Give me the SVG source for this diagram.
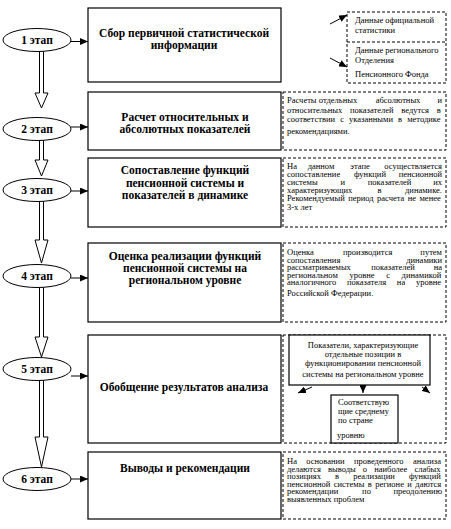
<svg xmlns="http://www.w3.org/2000/svg" width="451" height="529" viewBox="0 0 451 529">
<style>
.box{fill:#fff;stroke:#000;stroke-width:1.2}
.dash{fill:#fff;stroke:#000;stroke-width:1;stroke-dasharray:3,2}
.ell{fill:#fff;stroke:#000;stroke-width:1}
.ttl{font-family:"Liberation Serif","Times New Roman",serif;font-weight:bold;font-size:11.5px;text-anchor:middle;fill:#000}
.stg{font-family:"Liberation Serif","Times New Roman",serif;font-weight:bold;font-size:11.5px;text-anchor:middle;fill:#000}
.txt{font-family:"Liberation Serif","Times New Roman",serif;font-size:8.5px;fill:#000}
.ctr{text-anchor:middle}
.end{text-anchor:end}
.con{fill:none;stroke:#000;stroke-width:1}
.blk{fill:#fff;stroke:#000;stroke-width:1}
</style>
<defs>
<marker id="ah" markerUnits="userSpaceOnUse" markerWidth="8" markerHeight="7" refX="8" refY="3.5" orient="auto">
<path d="M0,0 L8,3.5 L0,7 z" fill="#000"/>
</marker>
</defs>

<g id="connectors">
<polygon class="blk" points="39.5,51 39.5,93 35,93 41.5,108 48,93 43.5,93 43.5,51"/>
<polygon class="blk" points="39.5,140 39.5,160 35,160 41.5,176 48,160 43.5,160 43.5,140"/>
<polygon class="blk" points="39.5,201 39.5,240 35,240 41.5,263 48,240 43.5,240 43.5,201"/>
<polygon class="blk" points="39.5,287 39.5,337 35,337 41.5,357 48,337 43.5,337 43.5,287"/>
<polygon class="blk" points="39.5,380 39.5,437 35,437 41.5,467 48,437 43.5,437 43.5,380"/>
<line class="con" x1="71" y1="41.5" x2="88" y2="41.5" marker-end="url(#ah)"/>
<line class="con" x1="71" y1="127" x2="88" y2="127" marker-end="url(#ah)"/>
<line class="con" x1="71" y1="191" x2="88" y2="191" marker-end="url(#ah)"/>
<line class="con" x1="71" y1="278" x2="88" y2="278" marker-end="url(#ah)"/>
<line class="con" x1="71" y1="376" x2="88" y2="376" marker-end="url(#ah)"/>
<line class="con" x1="71" y1="479" x2="88" y2="479" marker-end="url(#ah)"/>
<line class="con" x1="330" y1="24" x2="347" y2="15" marker-end="url(#ah)"/>
<line class="con" x1="330" y1="58" x2="347" y2="67" marker-end="url(#ah)"/>
</g>

<g id="stage1">
<ellipse class="ell" cx="37" cy="40" rx="34" ry="11.5"/>
<text class="stg" x="37" y="44">1 этап</text>
</g>
<g id="stage2">
<ellipse class="ell" cx="37" cy="129" rx="34" ry="11.5"/>
<text class="stg" x="37" y="133">2 этап</text>
</g>
<g id="stage3">
<ellipse class="ell" cx="37" cy="190" rx="34" ry="11.5"/>
<text class="stg" x="37" y="194">3 этап</text>
</g>
<g id="stage4">
<ellipse class="ell" cx="37" cy="276" rx="34" ry="11.5"/>
<text class="stg" x="37" y="280">4 этап</text>
</g>
<g id="stage5">
<ellipse class="ell" cx="37" cy="369" rx="34" ry="11.5"/>
<text class="stg" x="37" y="373">5 этап</text>
</g>
<g id="stage6">
<ellipse class="ell" cx="37" cy="479" rx="34" ry="11.5"/>
<text class="stg" x="37" y="483">6 этап</text>
</g>

<g id="box1">
<rect class="box" x="88" y="8" width="193" height="74"/>
<text class="ttl" x="184" y="37">Сбор первичной статистической</text>
<text class="ttl" x="184" y="49">информации</text>
</g>
<g id="sources">
<rect class="dash" x="347" y="12" width="99" height="71"/>
<line class="con" x1="347" y1="42" x2="446" y2="42" stroke-dasharray="3,2"/>
<text class="txt" x="355" y="23">Данные официальной</text>
<text class="txt" x="355" y="33">статистики</text>
<text class="txt" x="355" y="53">Данные регионального</text>
<text class="txt" x="355" y="63">Отделения</text>
<text class="txt" x="355" y="77">Пенсионного  Фонда</text>
</g>

<g id="box2">
<rect class="box" x="88" y="92" width="193" height="58"/>
<text class="ttl" x="185" y="121">Расчет относительных и</text>
<text class="ttl" x="185" y="133">абсолютных показателей</text>
</g>
<g id="note2">
<rect class="dash" x="283" y="92" width="163" height="58"/>
<text class="txt" x="287" y="103">Расчеты</text>
<text class="txt ctr" x="338" y="103">отдельных</text>
<text class="txt ctr" x="398" y="103">абсолютных</text>
<text class="txt end" x="442" y="103">и</text>
<text class="txt" x="287" y="113" word-spacing="5.6">относительных показателей ведутся в</text>
<text class="txt" x="287" y="122" word-spacing="3.0">соответствии с указанными в методике</text>
<text class="txt" x="287" y="134">рекомендациями.</text>
</g>

<g id="box3">
<rect class="box" x="88" y="158" width="193" height="69"/>
<text class="ttl" x="185" y="174">Сопоставление функций</text>
<text class="ttl" x="185" y="187">пенсионной системы и</text>
<text class="ttl" x="185" y="199">показателей в динамике</text>
</g>
<g id="note3">
<rect class="dash" x="283" y="158" width="163" height="69"/>
<text class="txt" x="287" y="169">На</text>
<text class="txt ctr" x="321" y="169">данном</text>
<text class="txt ctr" x="360" y="169">этапе</text>
<text class="txt end" x="442" y="169">осуществляется</text>
<text class="txt" x="287" y="177">сопоставление</text>
<text class="txt ctr" x="370" y="177">функций</text>
<text class="txt end" x="442" y="177">пенсионной</text>
<text class="txt" x="287" y="185">системы</text>
<text class="txt ctr" x="342.7" y="185">и</text>
<text class="txt ctr" x="389.6" y="185">показателей</text>
<text class="txt end" x="442" y="185">их</text>
<text class="txt" x="287" y="193">характеризующих</text>
<text class="txt ctr" x="379.5" y="193">в</text>
<text class="txt end" x="442" y="193">динамике.</text>
<text class="txt" x="287" y="201" word-spacing="1.3">Рекомендуемый период расчета не менее</text>
<text class="txt" x="287" y="210">3-х лет</text>
</g>

<g id="box4">
<rect class="box" x="88" y="243" width="193" height="79"/>
<text class="ttl" x="185" y="260">Оценка реализации функций</text>
<text class="ttl" x="185" y="272">пенсионной системы на</text>
<text class="ttl" x="185" y="284">региональном уровне</text>
</g>
<g id="note4">
<rect class="dash" x="283" y="243" width="163" height="79"/>
<text class="txt" x="287" y="255">Оценка</text>
<text class="txt ctr" x="367.7" y="255">производится</text>
<text class="txt end" x="442" y="255">путем</text>
<text class="txt" x="287" y="262.5">сопоставления</text>
<text class="txt end" x="442" y="262.5">динамики</text>
<text class="txt" x="287" y="270">рассматриваемых</text>
<text class="txt ctr" x="393" y="270">показателей</text>
<text class="txt end" x="442" y="270">на</text>
<text class="txt" x="287" y="277.5" word-spacing="9.5">региональном уровне с динамикой</text>
<text class="txt" x="287" y="285" word-spacing="8.6">аналогичного показателя на уровне</text>
<text class="txt" x="287" y="296">Российской Федерации.</text>
</g>

<g id="box5">
<rect class="box" x="88" y="335" width="193" height="108"/>
<text class="ttl" x="184" y="391">Обобщение результатов анализа</text>
</g>
<g id="note5">
<rect class="dash" x="283" y="335" width="163" height="108"/>
<rect class="box" x="289" y="335" width="141" height="50" stroke-width="1"/>
<text class="txt ctr" x="363" y="348">Показатели, характеризующие</text>
<text class="txt ctr" x="363" y="357">отдельные позиции в</text>
<text class="txt ctr" x="363" y="366">функционировании пенсионной</text>
<text class="txt ctr" x="363" y="377">системы на региональном уровне</text>
<line class="con" x1="312" y1="387" x2="298" y2="393" marker-end="url(#ah)"/>
<line class="con" x1="363" y1="385" x2="363" y2="393" marker-end="url(#ah)"/>
<line class="con" x1="422" y1="387" x2="430" y2="393" marker-end="url(#ah)"/>
<rect class="box" x="331" y="395" width="67" height="48" stroke-width="1"/>
<text class="txt" x="338" y="405">Соответствую</text>
<text class="txt" x="338" y="414">щие среднему</text>
<text class="txt" x="338" y="423">по стране</text>
<text class="txt" x="337" y="438">уровню</text>
</g>

<g id="box6">
<rect class="box" x="88" y="452" width="193" height="67"/>
<text class="ttl" x="185" y="472">Выводы и рекомендации</text>
</g>
<g id="note6">
<rect class="dash" x="283" y="452" width="163" height="67"/>
<text class="txt" x="287" y="464" word-spacing="7.2">На основании проведенного анализа</text>
<text class="txt" x="287" y="471.5" word-spacing="5.0">делаются выводы о наиболее слабых</text>
<text class="txt" x="287" y="479" word-spacing="12.0">позициях в реализации функций</text>
<text class="txt" x="287" y="486.5" word-spacing="1.3">пенсионной системы в регионе и даются</text>
<text class="txt" x="287" y="494">рекомендации</text>
<text class="txt ctr" x="366.5" y="494">по</text>
<text class="txt end" x="442" y="494">преодолению</text>
<text class="txt" x="287" y="502">выявленных проблем</text>
</g>
</svg>
